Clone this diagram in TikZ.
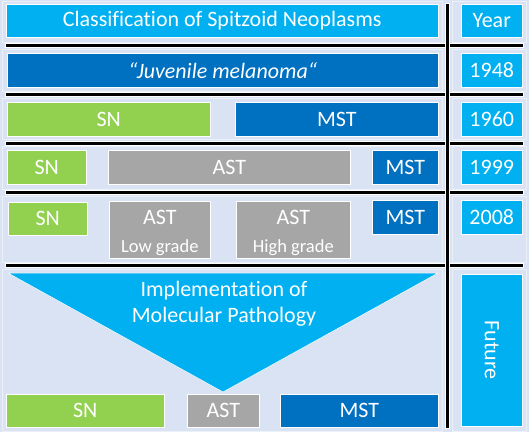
\documentclass[tikz,border=0pt]{standalone}
\usepackage{fontspec}
\setmainfont{Carlito}[Ligatures=CommonOff]
\definecolor{bgblue}{RGB}{218,227,243}
\definecolor{skyblue}{RGB}{0,176,240}
\definecolor{darkblue}{RGB}{0,112,192}
\definecolor{leafgreen}{RGB}{146,208,80}
\definecolor{midgray}{RGB}{166,166,166}

\begin{document}
\begin{tikzpicture}[x=1pt, y=-1pt,
  box/.style={draw=white, line width=0.5pt, text=white, inner sep=0pt, anchor=north west,
    align=center, font=\fontsize{22}{26}\selectfont},
  rule/.style={draw=white, line width=0.5pt, fill=black}]

  \useasboundingbox (0,0) rectangle (529,432);
  \fill[bgblue] (0,0) rectangle (529,432);

  % pale cells behind each row
  \foreach \t/\b in {1/42, 49/91, 98/139, 146/189, 196/262, 269/431} {
    \draw[white!50!bgblue, line width=0.6pt] (2,\t) rectangle (442,\b);
    \draw[white!50!bgblue, line width=0.6pt] (452,\t) rectangle (526,\b);
  }

  % separators
  \foreach \y in {45.5, 94.5, 143, 192, 265}
    \draw[rule] (5,\y-1.9) rectangle (523,\y+1.9);
  \draw[rule] (445.5,3) rectangle (449.5,428);

  % header
  \node (title) [box, fill=skyblue, minimum width=432pt, minimum height=33pt] at (6,4) {Classification of Spitzoid Neoplasms};
  \node (year) [box, fill=skyblue, minimum width=61pt, minimum height=33pt] at (461,4) {Year};

  % 1948
  \node (juv) [box, fill=darkblue, minimum width=431pt, minimum height=34pt] at (7,53) {\itshape ``Juvenile melanoma``};
  \node (y1948) [box, fill=skyblue, minimum width=61pt, minimum height=34pt] at (461,53) {1948};

  % 1960
  \node (sn60) [box, fill=leafgreen, minimum width=203pt, minimum height=34pt] at (7,102) {SN};
  \node (mst60) [box, fill=darkblue, minimum width=203pt, minimum height=34pt] at (235,102) {MST};
  \node (y1960) [box, fill=skyblue, minimum width=61pt, minimum height=34pt] at (461,102) {1960};

  % 1999
  \node (sn99) [box, fill=leafgreen, minimum width=79pt, minimum height=34pt] at (7,150) {SN};
  \node (ast99) [box, fill=midgray, minimum width=242pt, minimum height=34pt] at (108,150) {AST};
  \node (mst99) [box, fill=darkblue, minimum width=66pt, minimum height=34pt] at (372,150) {MST};
  \node (y1999) [box, fill=skyblue, minimum width=61pt, minimum height=34pt] at (461,150) {1999};

  % 2008
  \node (sn08) [box, fill=leafgreen, minimum width=79pt, minimum height=33pt] at (8,202) {SN};
  \node (astlow) [box, fill=midgray, minimum width=101pt, minimum height=57pt] at (109,201)
    {\rule{0pt}{20pt}AST\\[2pt]{\fontsize{18.5}{21}\selectfont Low grade}};
  \node (asthigh) [box, fill=midgray, minimum width=114pt, minimum height=57pt] at (236,201)
    {\rule{0pt}{20pt}AST\\[2pt]{\fontsize{18.5}{21}\selectfont High grade}};
  \node (mst08) [box, fill=darkblue, minimum width=66pt, minimum height=34pt] at (372,200) {MST};
  \node (y2008) [box, fill=skyblue, minimum width=61pt, minimum height=34pt] at (461,200) {2008};

  % future
  \fill[skyblue, draw=white, line width=0.5pt] (8,273) -- (438,273) -- (223,392) -- cycle;
  \node (impl) [text=white, align=center, font=\fontsize{22}{26}\selectfont] at (224,304)
    {Implementation of\\Molecular Pathology};
  \node (snf) [box, fill=leafgreen, minimum width=158pt, minimum height=33pt] at (6,394) {SN};
  \node (astf) [box, fill=midgray, minimum width=72pt, minimum height=33pt] at (187,394) {AST};
  \node (mstf) [box, fill=darkblue, minimum width=158pt, minimum height=33pt] at (280,394) {MST};
  \node (fut) [box, fill=skyblue, minimum width=61pt, minimum height=152pt] at (461,274) {};
  \node (futtxt) [text=white, rotate=-90, font=\fontsize{22}{26}\selectfont] at (fut.center) {Future};
\end{tikzpicture}
\end{document}
